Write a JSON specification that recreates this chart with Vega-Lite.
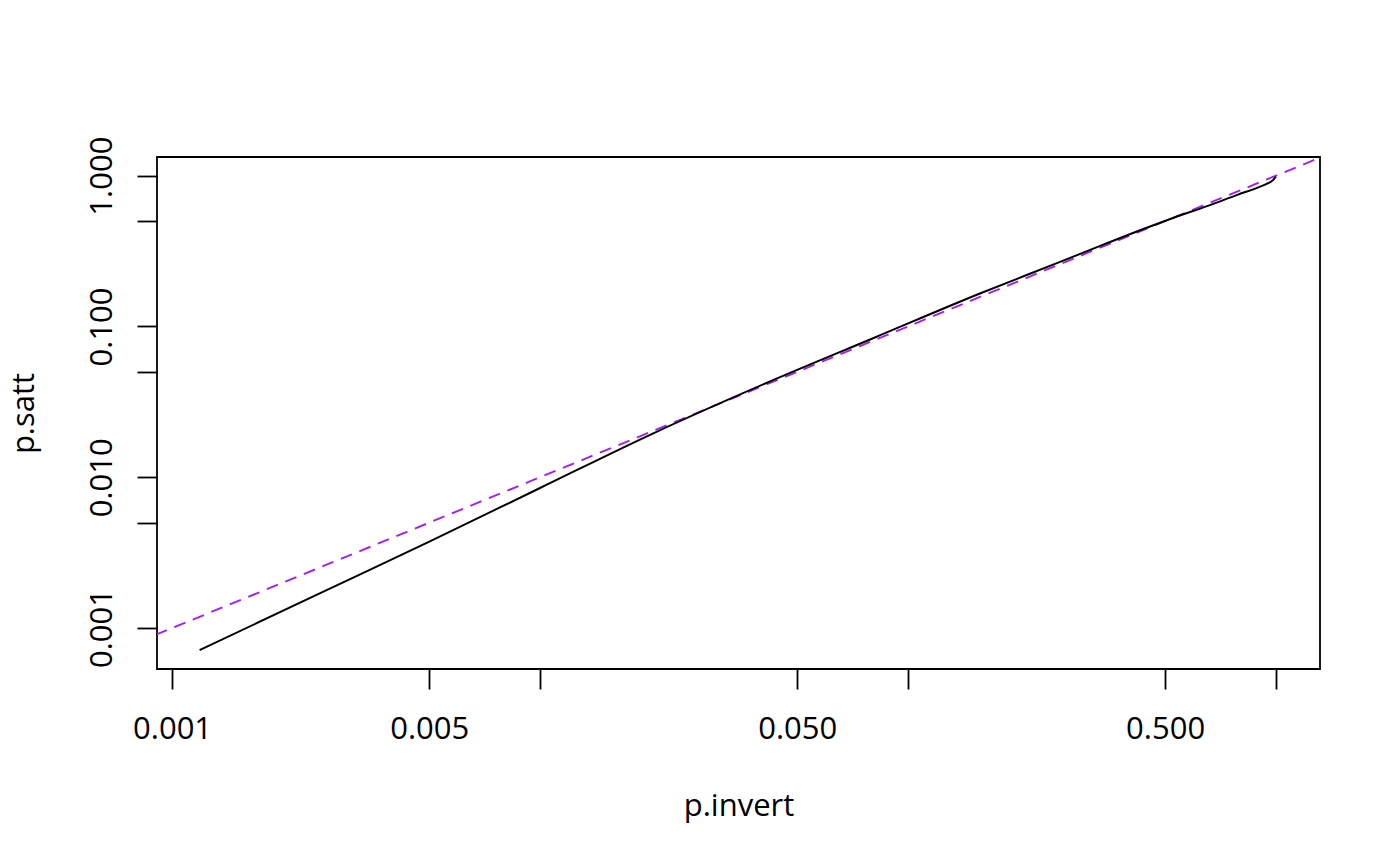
{
  "$schema": "https://vega.github.io/schema/vega-lite/v6.json",
  "autosize": "none",
  "width": 1163,
  "height": 512,
  "padding": {"left": 157, "top": 157, "right": 80, "bottom": 197},
  "background": "white",
  "datasets": {
    "curve": [
      {"p_invert": 0.001188, "p_satt": 0.000713},
      {"p_invert": 0.002469, "p_satt": 0.00166},
      {"p_invert": 0.00502, "p_satt": 0.003757},
      {"p_invert": 0.01, "p_satt": 0.008484},
      {"p_invert": 0.01992, "p_satt": 0.01912},
      {"p_invert": 0.04313, "p_satt": 0.04422},
      {"p_invert": 0.08072, "p_satt": 0.0839},
      {"p_invert": 0.1575, "p_satt": 0.166},
      {"p_invert": 0.25, "p_satt": 0.259},
      {"p_invert": 0.341, "p_satt": 0.35},
      {"p_invert": 0.44, "p_satt": 0.446},
      {"p_invert": 0.53, "p_satt": 0.528},
      {"p_invert": 0.65, "p_satt": 0.628},
      {"p_invert": 0.786, "p_satt": 0.746},
      {"p_invert": 0.9, "p_satt": 0.84},
      {"p_invert": 0.95, "p_satt": 0.888},
      {"p_invert": 0.98, "p_satt": 0.93},
      {"p_invert": 1.0, "p_satt": 0.985}
    ],
    "identity": [
      {"p_invert": 0.0001, "p_satt": 0.0001},
      {"p_invert": 10, "p_satt": 10}
    ]
  },
  "layer": [
    {
      "data": {"name": "identity"},
      "mark": {"type": "line", "color": "#A020F0", "strokeWidth": 1.9, "strokeDash": [12, 8], "clip": true},
      "encoding": {
        "x": {"field": "p_invert", "type": "quantitative"},
        "y": {"field": "p_satt", "type": "quantitative"}
      }
    },
    {
      "data": {"name": "curve"},
      "mark": {"type": "line", "color": "black", "strokeWidth": 2, "interpolate": "monotone", "clip": true},
      "encoding": {
        "x": {
          "field": "p_invert",
          "type": "quantitative",
          "title": "p.invert",
          "scale": {"type": "log", "domain": [0.00091, 1.318], "nice": false, "zero": false},
          "axis": {
            "values": [0.001, 0.005, 0.01, 0.05, 0.1, 0.5, 1],
            "labelExpr": "datum.value == 0.001 || datum.value == 0.005 || datum.value == 0.05 || datum.value == 0.5 ? format(datum.value, '.3f') : ''",
            "labelPadding": 25,
            "labelBaseline": "top",
            "labelAlign": "center",
            "titleY": 146,
            "titleBaseline": "alphabetic"
          }
        },
        "y": {
          "field": "p_satt",
          "type": "quantitative",
          "title": "p.satt",
          "scale": {"type": "log", "domain": [0.000535, 1.33], "nice": false, "zero": false},
          "axis": {
            "values": [0.001, 0.005, 0.01, 0.05, 0.1, 0.5, 1],
            "labelExpr": "datum.value == 0.001 || datum.value == 0.01 || datum.value == 0.1 || datum.value == 1 ? format(datum.value, '.3f') : ''",
            "labelAngle": -90,
            "labelAlign": "center",
            "labelBaseline": "alphabetic",
            "labelPadding": 26,
            "titleAngle": -90,
            "titleX": -124,
            "titleBaseline": "alphabetic"
          }
        }
      }
    }
  ],
  "config": {
    "view": {"stroke": "black", "strokeWidth": 1.8},
    "axis": {
      "grid": false,
      "domain": false,
      "ticks": true,
      "tickSize": 20,
      "tickColor": "black",
      "tickWidth": 1.8,
      "labelFont": "Open Sans",
      "labelFontSize": 31,
      "labelColor": "black",
      "labelOverlap": false,
      "labelFlush": false,
      "titleFont": "Open Sans",
      "titleFontSize": 31,
      "titleFontWeight": "normal",
      "titleColor": "black"
    }
  }
}
